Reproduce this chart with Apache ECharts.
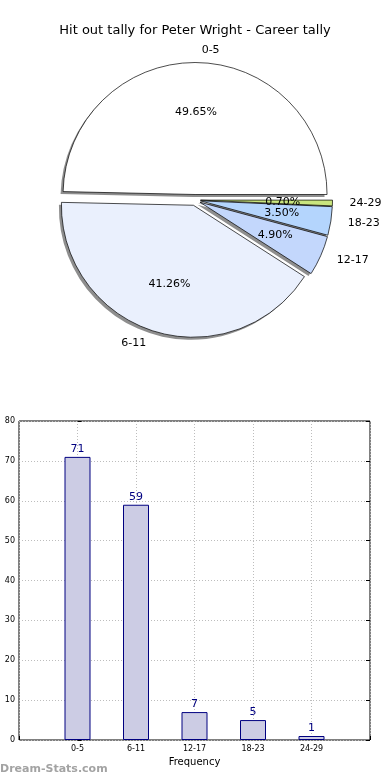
<!DOCTYPE html>
<html>
<head>
<meta charset="utf-8">
<script src="https://cdn.jsdelivr.net/npm/echarts@6/dist/echarts.min.js"></script>
<style>
html,body{margin:0;padding:0;background:#fff;}
#c{width:390px;height:780px;}
</style>
</head>
<body>
<div id="c"></div>
<script>
var title = 'Hit out tally for Peter Wright - Career tally';
var categories = ['0-5', '6-11', '12-17', '18-23', '24-29'];
var counts = [71, 59, 7, 5, 1];
var sliceColors = ['#ffffff', '#eaf0fd', '#c3d7fc', '#b4d5fd', '#c9e57e'];
var yTicks = [0, 10, 20, 30, 40, 50, 60, 70, 80];
var xAxisLabel = 'Frequency';
var watermark = 'Dream-Stats.com';

var FONT = 'DejaVu Sans';
var total = counts.reduce(function (a, b) { return a + b; }, 0);
var R = 132;
var CX = 195, CY = 200, SH = 2.5;

function pieItems(withColor) {
  return categories.map(function (c, i) {
    var d = { name: c, value: counts[i], selected: true };
    if (withColor) d.itemStyle = { color: sliceColors[i] };
    return d;
  });
}

var pieBase = {
  type: 'pie',
  startAngle: 0,
  clockwise: false,
  avoidLabelOverlap: false,
  labelLayout: { hideOverlap: false },
  selectedMode: 'multiple',
  selectedOffset: 5.5,
  silent: true,
  emphasis: { disabled: true }
};

var chart = echarts.init(document.getElementById('c'), null, { renderer: 'canvas' });
chart.setOption({
  animation: false,
  backgroundColor: '#ffffff',
  title: {
    text: title, left: 'center', top: 19,
    textStyle: { fontFamily: FONT, fontSize: 13, fontWeight: 'normal', color: '#000' }
  },
  graphic: [{
    type: 'text', left: 0, top: 764,
    style: { text: watermark, fontFamily: FONT, fontSize: 11, fontWeight: 'bold', fill: '#a3a3a3' }
  }],
  grid: {
    left: 19, right: 20, top: 421, bottom: 40,
    show: true, borderColor: '#000', borderWidth: 1, backgroundColor: 'transparent'
  },
  xAxis: {
    type: 'value', min: -1, max: 5, interval: 1,
    name: xAxisLabel, nameLocation: 'middle', nameGap: 17,
    nameTextStyle: { fontFamily: FONT, fontSize: 10, color: '#000' },
    axisLine: { show: false },
    axisTick: { show: true, inside: true, length: 4, lineStyle: { color: '#000' } },
    axisLabel: {
      fontFamily: FONT, fontSize: 8, color: '#000', margin: 5,
      formatter: function (v) { return categories[v] !== undefined ? categories[v] : ''; }
    },
    splitLine: { show: true, lineStyle: { type: [1, 2], color: '#bdbdbd', width: 1 } }
  },
  yAxis: [{
    type: 'value', min: 0, max: 80, interval: 10,
    axisLine: { show: false },
    axisTick: { show: true, inside: true, length: 4, lineStyle: { color: '#000' } },
    axisLabel: { fontFamily: FONT, fontSize: 8, color: '#000', margin: 4,
      formatter: function (v) { return yTicks.indexOf(v) >= 0 ? String(v) : ''; } },
    splitLine: { show: true, lineStyle: { type: [1, 2], color: '#bdbdbd', width: 1 } }
  }, {
    type: 'value', min: 0, max: 80, interval: 10, position: 'right',
    axisLine: { show: false },
    axisTick: { show: true, inside: true, length: 4, lineStyle: { color: '#000' } },
    axisLabel: { show: false },
    splitLine: { show: false }
  }],
  series: [{
    type: 'bar',
    data: counts.map(function (v, i) { return [i, v]; }),
    barWidth: 26,
    itemStyle: { color: '#ccccE4', borderColor: '#000080', borderWidth: 1 },
    label: { show: true, position: 'top', distance: 2, color: '#000080', fontFamily: FONT, fontSize: 11 },
    z: 3
  }, Object.assign({}, pieBase, {
    center: [CX - SH, CY + SH],
    radius: [0, R],
    data: pieItems(false),
    itemStyle: { color: 'rgba(50,50,50,0.55)', borderWidth: 0 },
    label: { show: false },
    labelLine: { show: false },
    z: 1
  }), Object.assign({}, pieBase, {
    center: [CX, CY],
    radius: [0, R],
    data: pieItems(true),
    itemStyle: { borderColor: '#000', borderWidth: 0.7 },
    label: {
      show: true, position: 'outside', formatter: '{b}',
      fontFamily: FONT, fontSize: 11, color: '#000'
    },
    labelLine: { show: false, length: 12, length2: 0 },
    z: 2
  }), Object.assign({}, pieBase, {
    center: [CX, CY],
    radius: [0, R * 1.2],
    data: pieItems(false),
    itemStyle: { color: 'rgba(0,0,0,0)', borderWidth: 0 },
    label: {
      show: true, position: 'inside',
      formatter: function (p) { return (p.value / total * 100).toFixed(2) + '%'; },
      fontFamily: FONT, fontSize: 11, color: '#000'
    },
    labelLine: { show: false },
    z: 4
  })]
});
</script>
</body>
</html>
